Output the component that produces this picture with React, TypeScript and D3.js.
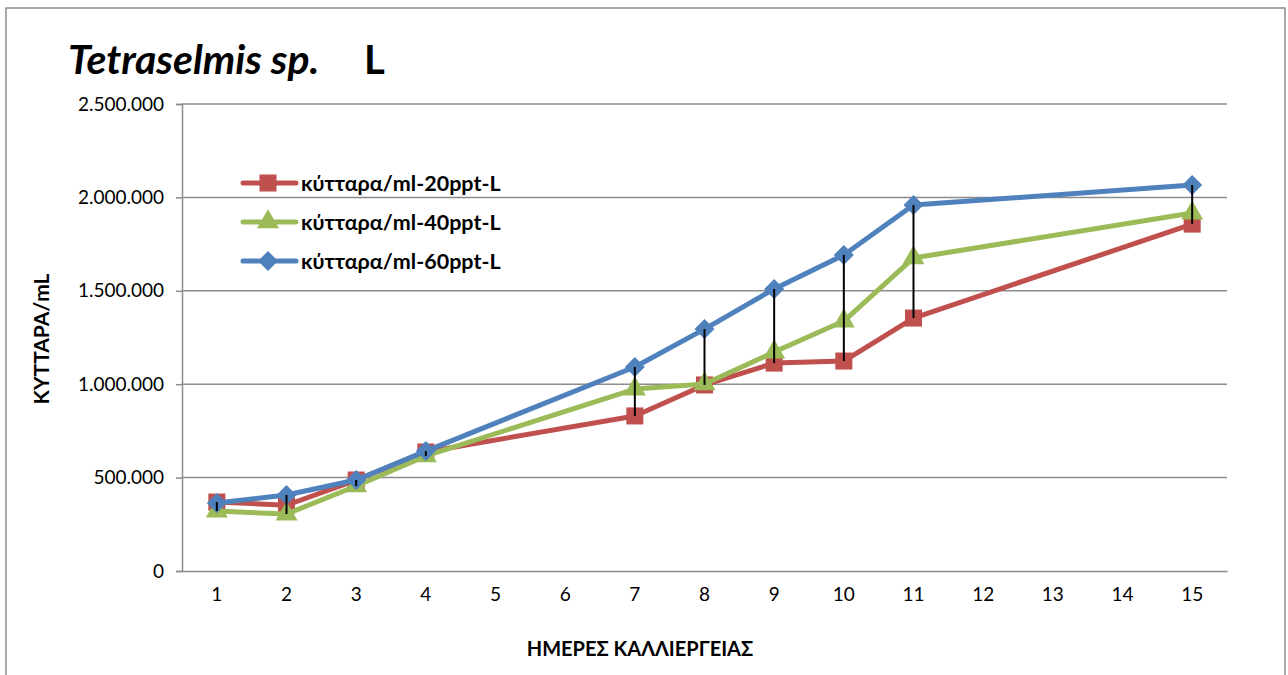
import React, { useEffect, useRef } from 'react';
import * as d3 from 'd3';

// x categories (days)
const days = ['1', '2', '3', '4', '5', '6', '7', '8', '9', '10', '11', '12', '13', '14', '15'];
// days that have measurements
const measuredDays = ['1', '2', '3', '4', '7', '8', '9', '10', '11', '15'];

const ppt20 = [369000, 352000, 487000, 637000, 830000, 996000, 1113000, 1124000, 1354000, 1857000];
const ppt40 = [321000, 305000, 455000, 616000, 974000, 1001000, 1172000, 1338000, 1676000, 1916000];
const ppt60 = [364000, 407000, 487000, 642000, 1092000, 1295000, 1510000, 1692000, 1959000, 2066000];

const yTicks = [0, 500000, 1000000, 1500000, 2000000, 2500000];

const seriesNames = ['κύτταρα/ml-20ppt-L', 'κύτταρα/ml-40ppt-L', 'κύτταρα/ml-60ppt-L'];

const App = () => {
  const ref = useRef<SVGSVGElement | null>(null);

  useEffect(() => {
    if (!ref.current) return;
    const svg = d3.select(ref.current);
    svg.selectAll('*').remove();

    const font = 'Lato, "Open Sans", sans-serif';
    const plot = { left: 182, right: 1227, top: 104, bottom: 571 };

    const x = d3.scaleBand().domain(days).range([plot.left, plot.right]);
    const y = d3.scaleLinear().domain([0, 2500000]).range([plot.bottom, plot.top]);
    const cx = (d: string) => (x(d) as number) + x.bandwidth() / 2;

    const series = [
      { name: seriesNames[0], values: ppt20, color: '#C0504D', marker: 'square' },
      { name: seriesNames[1], values: ppt40, color: '#9BBB59', marker: 'triangle' },
      { name: seriesNames[2], values: ppt60, color: '#4F81BD', marker: 'diamond' },
    ];

    // outer chart border
    svg.append('rect')
      .attr('x', 6).attr('y', 8).attr('width', 1279).attr('height', 675)
      .attr('fill', 'white').attr('stroke', '#8c8c8c').attr('stroke-width', 1.5);

    // gridlines
    svg.append('g').selectAll('line').data(yTicks.slice(1)).enter().append('line')
      .attr('x1', plot.left).attr('x2', plot.right)
      .attr('y1', d => y(d)).attr('y2', d => y(d))
      .attr('stroke', '#8c8c8c').attr('stroke-width', 1.5);

    // y axis
    const yAxis = svg.append('g').attr('transform', `translate(${plot.left},0)`)
      .call(d3.axisLeft(y).tickValues(yTicks).tickSize(6).tickPadding(12)
        .tickFormat(d => d3.format(',')(d as number).replace(/,/g, '.')));
    yAxis.select('.domain').attr('stroke', '#8c8c8c').attr('stroke-width', 1.5);
    yAxis.selectAll('.tick line').attr('stroke', '#8c8c8c').attr('stroke-width', 1.5);
    yAxis.selectAll('.tick text').attr('font-family', font).attr('font-size', 19).attr('fill', '#000');

    // x axis
    const xAxis = svg.append('g').attr('transform', `translate(0,${plot.bottom})`)
      .call(d3.axisBottom(x).tickSize(0).tickPadding(17));
    xAxis.select('.domain').attr('stroke', '#8c8c8c').attr('stroke-width', 1.5);
    xAxis.selectAll('.tick text').attr('font-family', font).attr('font-size', 19).attr('fill', '#000');

    // lines
    const line = d3.line<number>()
      .x((_, i) => cx(measuredDays[i]))
      .y(d => y(d));

    const symbols: Record<string, d3.SymbolType> = {
      square: d3.symbolSquare,
      triangle: d3.symbolTriangle,
      diamond: d3.symbolSquare,
    };
    const sizes: Record<string, number> = { square: 290, triangle: 210, diamond: 200 };
    const rot = (m: string) => (m === 'diamond' ? ' rotate(45)' : '');

    series.forEach(s => {
      svg.append('path')
        .attr('d', line(s.values))
        .attr('fill', 'none').attr('stroke', s.color).attr('stroke-width', 5)
        .attr('stroke-linejoin', 'round');
      svg.append('g').selectAll('path').data(s.values).enter().append('path')
        .attr('d', d3.symbol().type(symbols[s.marker]).size(sizes[s.marker])())
        .attr('transform', (d, i) => `translate(${cx(measuredDays[i])},${y(d)})${rot(s.marker)}`)
        .attr('fill', s.color);
    });

    // high-low lines
    svg.append('g').selectAll('line').data(measuredDays).enter().append('line')
      .attr('x1', d => cx(d)).attr('x2', d => cx(d))
      .attr('y1', (_, i) => y(Math.max(ppt20[i], ppt40[i], ppt60[i])))
      .attr('y2', (_, i) => y(Math.min(ppt20[i], ppt40[i], ppt60[i])))
      .attr('stroke', '#000').attr('stroke-width', 2);

    // legend
    const legend = svg.append('g');
    series.forEach((s, i) => {
      const ly = 183 + i * 39;
      legend.append('line').attr('x1', 243).attr('x2', 296).attr('y1', ly).attr('y2', ly)
        .attr('stroke', s.color).attr('stroke-width', 5).attr('stroke-linecap', 'round');
      legend.append('path')
        .attr('d', d3.symbol().type(symbols[s.marker]).size(sizes[s.marker])())
        .attr('transform', `translate(268,${ly})${rot(s.marker)}`)
        .attr('fill', s.color);
      legend.append('text').attr('x', 301).attr('y', ly).attr('dy', '0.35em')
        .attr('font-family', font).attr('font-size', 21.5).attr('font-weight', 'bold')
        .text(s.name);
    });

    // titles
    svg.append('text').attr('x', 68).attr('y', 74)
      .attr('font-family', font).attr('font-size', 41).attr('font-weight', 'bold')
      .attr('font-style', 'italic').text('Tetraselmis sp.');
    svg.append('text').attr('x', 364).attr('y', 74)
      .attr('font-family', font).attr('font-size', 40).attr('font-weight', 'bold').text('L');

    svg.append('text')
      .attr('transform', 'translate(49,339) rotate(-90)')
      .attr('text-anchor', 'middle')
      .attr('font-family', font).attr('font-size', 21).attr('font-weight', 'bold')
      .text('ΚΥΤΤΑΡΑ/mL');

    svg.append('text').attr('x', 640).attr('y', 656).attr('text-anchor', 'middle')
      .attr('font-family', font).attr('font-size', 20).attr('font-weight', 'bold')
      .text('ΗΜΕΡΕΣ ΚΑΛΛΙΕΡΓΕΙΑΣ');
  }, []);

  return (
    <svg ref={ref} width={1288} height={675}
      style={{ position: 'absolute', left: 0, top: 0, background: 'white' }} />
  );
};

export default App;
